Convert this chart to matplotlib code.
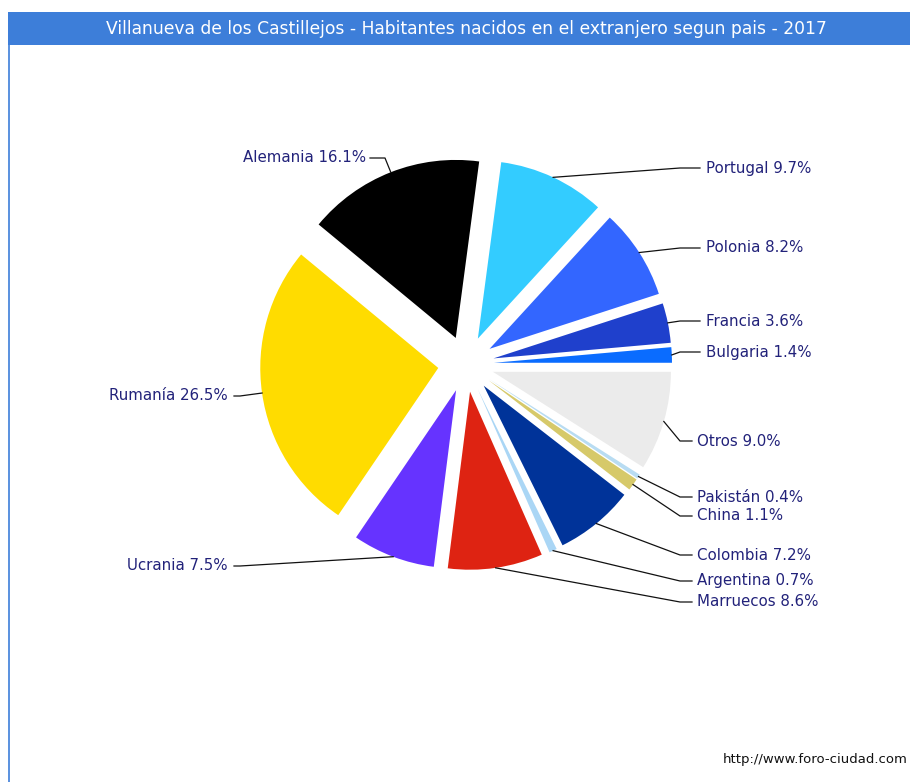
import numpy as np
import matplotlib
matplotlib.use("Agg")
import matplotlib.pyplot as plt
from matplotlib.patches import Rectangle

# ---- data ----
countries = ["Bulgaria", "Francia", "Polonia", "Portugal", "Alemania", "Rumanía",
             "Ucrania", "Marruecos", "Argentina", "Colombia", "China", "Pakistán", "Otros"]
percents = [1.4, 3.6, 8.2, 9.7, 16.1, 26.5, 7.5, 8.6, 0.7, 7.2, 1.1, 0.4, 9.0]
colors = ["#0a6cff", "#1f40cc", "#3366ff", "#33ccff", "#000000", "#ffdc00",
          "#6633ff", "#de2312", "#aad6f5", "#003399", "#d6c96a", "#b8dcf2", "#ebebeb"]
title = "Villanueva de los Castillejos - Habitantes nacidos en el extranjero segun pais - 2017"

# ---- layout (pixels, y measured from top) ----
W, H = 910, 782
cx, cy = 466, 364
R = 178
D = 28
# label anchor: (text x, text y, side, elbow x, line end x)
label_pos = {
    "Bulgaria": (706, 352, "r", 680, 700),
    "Francia": (706, 321, "r", 680, 700),
    "Polonia": (706, 248, "r", 680, 700),
    "Portugal": (706, 168, "r", 680, 700),
    "Alemania": (366, 158, "l", 385, 370),
    "Rumanía": (228, 396, "l", 240, 234),
    "Ucrania": (228, 566, "l", 240, 234),
    "Marruecos": (697, 602, "r", 680, 692),
    "Argentina": (697, 581, "r", 680, 692),
    "Colombia": (697, 555, "r", 680, 692),
    "China": (697, 516, "r", 680, 692),
    "Pakistán": (697, 497, "r", 680, 692),
    "Otros": (697, 441, "r", 680, 692),
}

fig = plt.figure(figsize=(W / 100, H / 100), dpi=100)
ax = fig.add_axes([0, 0, 1, 1])

def Y(y):
    return H - y

ax.pie(percents, colors=colors, startangle=0, counterclock=True,
       center=(cx, Y(cy)), radius=R, explode=[D] * len(percents),
       wedgeprops=dict(linewidth=0), frame=True)
ax.set_xlim(0, W)
ax.set_ylim(0, H)
ax.set_aspect("equal")
ax.axis("off")

# frame: title bar and left border
ax.add_patch(Rectangle((8, Y(45)), W - 8, 33, facecolor="#3d7ed9", edgecolor="none"))
ax.plot([8.5, 8.5], [0, Y(45)], color="#3d7ed9", lw=1.2)
ax.text(466, Y(29), title, color="white", fontsize=12.3,
        ha="center", va="center", family="DejaVu Sans")

cum = np.cumsum([0] + percents)
for i, name in enumerate(countries):
    mid = np.deg2rad((cum[i] + percents[i] / 2) * 3.6)
    px = cx + (R + D) * np.cos(mid)
    py = cy - (R + D) * np.sin(mid)
    tx, ty, side, ex, lx = label_pos[name]
    ax.plot([px, ex, lx], [Y(py), Y(ty), Y(ty)], color="#111111", lw=0.9)
    ax.text(tx, Y(ty), f"{name} {percents[i]:.1f}%", color="#22227a",
            fontsize=10.8, ha="left" if side == "r" else "right", va="center")

ax.text(908, Y(760), "http://www.foro-ciudad.com", color="#111111", fontsize=9.5,
        ha="right", va="center")

fig.savefig("out.png", dpi=100, facecolor="white")
